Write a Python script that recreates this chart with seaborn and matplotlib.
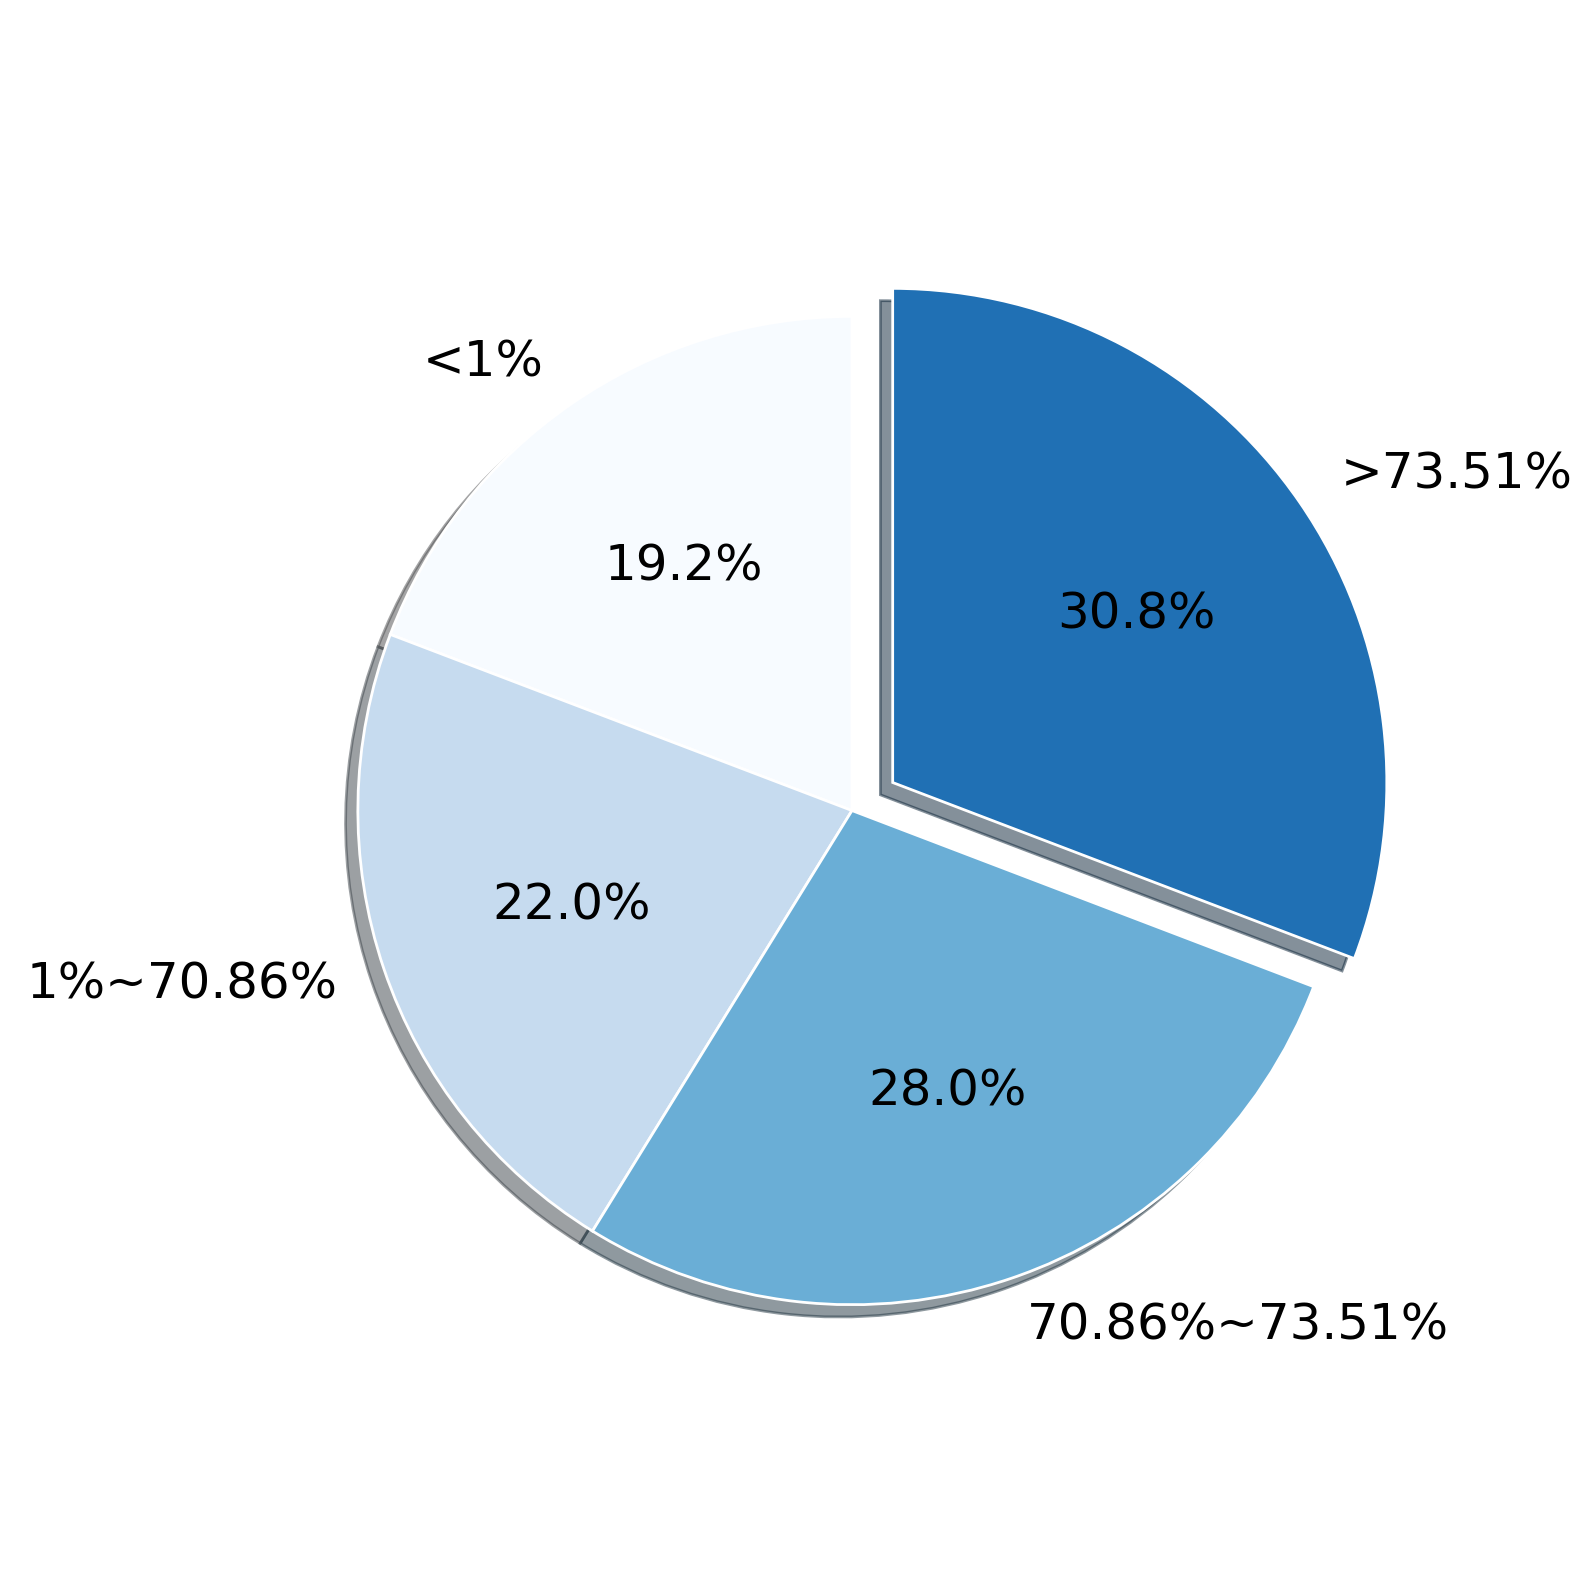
import matplotlib
matplotlib.use("Agg")
import matplotlib.pyplot as plt
import seaborn as sns

sns.set_theme(style="white")
plt.rcParams["font.family"] = ["DejaVu Sans"]

# share of samples per range
labels = ["<1%", "1%~70.86%", "70.86%~73.51%", ">73.51%"]
shares = [19.2, 22.0, 28.0, 30.8]
explode = [0, 0, 0, 0.1]

blues = sns.color_palette("Blues", as_cmap=True)
colors = [blues(0.0), blues(0.25), blues(0.5), blues(0.75)]

fig = plt.figure(figsize=(8, 8), dpi=199.25)
ax = fig.add_axes([0.147, 0.104, 0.775, 0.775])
ax.pie(shares, labels=labels, colors=colors, explode=explode,
       autopct="%1.1f%%", startangle=90,
       shadow={"ox": -0.009, "oy": -0.009},
       wedgeprops={"edgecolor": "white", "linewidth": 1},
       textprops={"fontsize": 18, "color": "black"})
fig.savefig("out.png", dpi=199.25)
